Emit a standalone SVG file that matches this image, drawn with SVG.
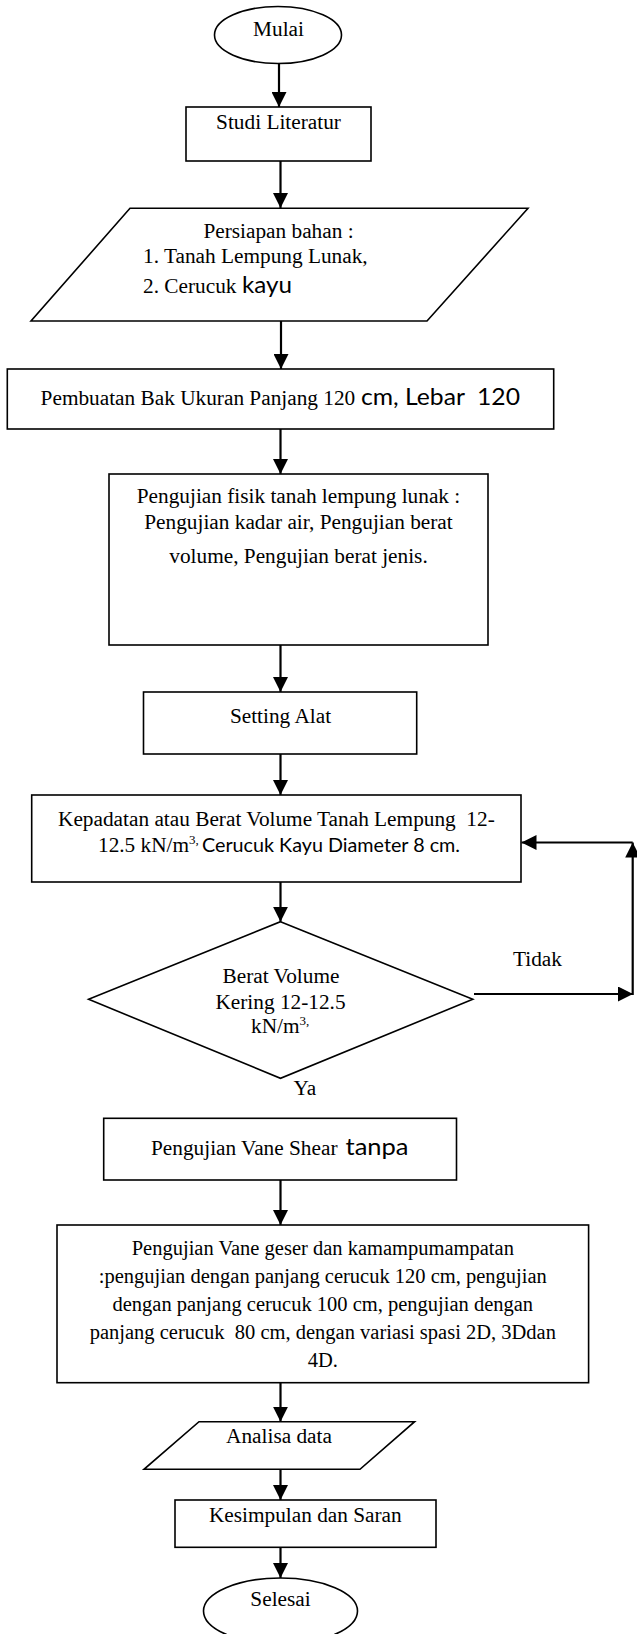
<svg xmlns="http://www.w3.org/2000/svg" width="637" height="1634" viewBox="0 0 637 1634">
<style>
.s{fill:#fff;stroke:#000;stroke-width:1.6}
.t{font-family:"Liberation Serif","Times New Roman",serif;font-size:21.3px;fill:#000}
.b{font-size:20.5px}
.c{font-family:Lato,"Open Sans",sans-serif;fill:#000}
.m{text-anchor:middle}
.e{fill:none;stroke:#000;stroke-width:2.2}
</style>
<defs>
<marker id="a" viewBox="0 0 15 15" refX="15" refY="7.5" markerWidth="15" markerHeight="15" markerUnits="userSpaceOnUse" orient="auto"><path d="M0,0 L15,7.5 L0,15 z" fill="#000"/></marker>
</defs>
<rect width="637" height="1634" fill="#fff"/>

<g id="connectors">
<line class="e" x1="279" y1="63.5" x2="279" y2="107" marker-end="url(#a)"/>
<line class="e" x1="280.5" y1="161" x2="280.5" y2="208" marker-end="url(#a)"/>
<line class="e" x1="281" y1="321" x2="281" y2="369" marker-end="url(#a)"/>
<line class="e" x1="280.5" y1="429" x2="280.5" y2="474" marker-end="url(#a)"/>
<line class="e" x1="280.5" y1="645" x2="280.5" y2="692" marker-end="url(#a)"/>
<line class="e" x1="280.5" y1="754" x2="280.5" y2="795" marker-end="url(#a)"/>
<line class="e" x1="280.5" y1="878" x2="280.5" y2="921.7" marker-end="url(#a)"/>
<line class="e" x1="474" y1="994" x2="633" y2="994" marker-end="url(#a)"/>
<line class="e" x1="632.7" y1="995" x2="632.7" y2="842.5" marker-end="url(#a)"/>
<line class="e" x1="632.7" y1="842.5" x2="521.5" y2="842.5" marker-end="url(#a)"/>
<line class="e" x1="280.5" y1="1180" x2="280.5" y2="1225" marker-end="url(#a)"/>
<line class="e" x1="280.5" y1="1377" x2="280.5" y2="1421.7" marker-end="url(#a)"/>
<line class="e" x1="280.5" y1="1457" x2="280.5" y2="1500" marker-end="url(#a)"/>
<line class="e" x1="280.5" y1="1530" x2="280.5" y2="1578" marker-end="url(#a)"/>
</g>

<g id="mulai">
<ellipse class="s" cx="278" cy="35" rx="63.5" ry="28.5"/>
<text class="t m" x="278.5" y="36">Mulai</text>
</g>

<g id="studi">
<rect class="s" x="186" y="107" width="185" height="54"/>
<text class="t m" x="278.5" y="129">Studi Literatur</text>
</g>

<g id="persiapan">
<polygon class="s" points="130,208.3 528,208.3 427,321 31,321"/>
<text class="t m" x="278.5" y="238">Persiapan bahan :</text>
<text class="t" x="143" y="263">1. Tanah Lempung Lunak,</text>
<text class="t" x="143" y="293">2. Cerucuk</text>
<text class="c" x="242" y="293" font-size="24" textLength="50" lengthAdjust="spacingAndGlyphs">kayu</text>
</g>

<g id="pembuatan">
<rect class="s" x="7.3" y="369" width="546.4" height="60"/>
<text class="t" x="40.6" y="405">Pembuatan Bak Ukuran Panjang 120</text>
<text class="c" x="361" y="405" font-size="24" textLength="159" lengthAdjust="spacingAndGlyphs" xml:space="preserve">cm, Lebar  120</text>
</g>

<g id="fisik">
<rect class="s" x="109" y="474" width="379" height="171"/>
<text class="t m" x="298.5" y="503">Pengujian fisik tanah lempung lunak :</text>
<text class="t m" x="298.5" y="529">Pengujian kadar air, Pengujian berat</text>
<text class="t m" x="298.5" y="563">volume, Pengujian berat jenis.</text>
</g>

<g id="setting">
<rect class="s" x="143.5" y="692" width="273.2" height="62"/>
<text class="t m" x="280.5" y="723">Setting Alat</text>
</g>

<g id="kepadatan">
<rect class="s" x="31.7" y="795" width="489.3" height="87"/>
<text class="t m" x="276.4" y="826" xml:space="preserve">Kepadatan atau Berat Volume Tanah Lempung  12-</text>
<text class="t" x="98" y="851.5">12.5 kN/m<tspan font-size="13" dy="-8">3</tspan><tspan font-size="13" dy="0">,</tspan></text>
<text class="c" x="202" y="851.5" font-size="20" textLength="258" lengthAdjust="spacingAndGlyphs">Cerucuk Kayu Diameter 8 cm.</text>
</g>

<g id="cek">
<polygon class="s" points="280.5,921.7 472.8,999.3 280.5,1078.3 88.6,999.3"/>
<text class="t m" x="281" y="983.3">Berat Volume</text>
<text class="t m" x="280.5" y="1009.3">Kering 12-12.5</text>
<text class="t" x="251" y="1033.3">kN/m<tspan font-size="13" dy="-8">3,</tspan></text>
</g>

<g id="label-tidak">
<text class="t" x="513" y="965.7">Tidak</text>
</g>
<g id="label-ya">
<text class="t" x="293.5" y="1095">Ya</text>
</g>

<g id="vane">
<rect class="s" x="103.7" y="1118.3" width="352.8" height="61.7"/>
<text class="t" x="151" y="1155">Pengujian Vane Shear</text>
<text class="c" x="345.5" y="1155" font-size="24" textLength="63" lengthAdjust="spacingAndGlyphs">tanpa</text>
</g>

<g id="pengujian-vane">
<rect class="s" x="57" y="1225" width="531.6" height="157.7"/>
<text class="t b m" x="322.8" y="1255">Pengujian Vane geser dan kamampumampatan</text>
<text class="t b m" x="322.8" y="1283">:pengujian dengan panjang cerucuk 120 cm, pengujian</text>
<text class="t b m" x="322.8" y="1311">dengan panjang cerucuk 100 cm, pengujian dengan</text>
<text class="t b m" x="322.8" y="1339" xml:space="preserve">panjang cerucuk  80 cm, dengan variasi spasi 2D, 3Ddan</text>
<text class="t b m" x="322.8" y="1367">4D.</text>
</g>

<g id="analisa">
<polygon class="s" points="199,1421.7 414.6,1421.7 360,1469.3 144,1469.3"/>
<text class="t m" x="279" y="1442.7">Analisa data</text>
</g>

<g id="kesimpulan">
<rect class="s" x="175" y="1500" width="261" height="47.3"/>
<text class="t m" x="305.3" y="1521.7">Kesimpulan dan Saran</text>
</g>

<g id="selesai">
<ellipse class="s" cx="280.5" cy="1611" rx="77" ry="33"/>
<text class="t m" x="280.5" y="1606">Selesai</text>
</g>
</svg>
